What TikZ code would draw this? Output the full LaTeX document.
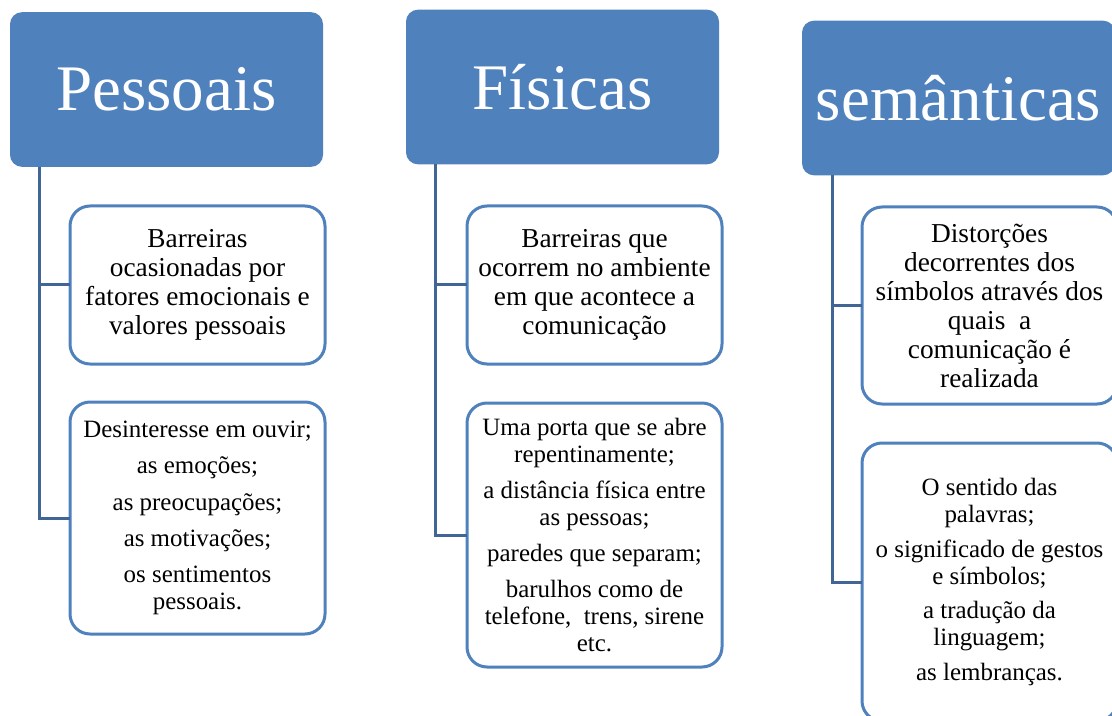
\documentclass[tikz,border=0pt]{standalone}
\usepackage{fontspec}
\setmainfont{Liberation Serif}
\usepackage{xcolor}
\usepackage{tikz}

\begin{document}
\begin{tikzpicture}[x = {(0.75pt,0pt)},
                    y = {(0pt,-0.75pt)}]

  \useasboundingbox (0,0) rectangle (1112,716);

  % COLORS
  \definecolor{headcolor_b}{rgb}{ 0.31,0.506,0.741 }
  \definecolor{linecolor_b}{rgb}{ 0.255,0.4,0.588 }

  % STYLES
  \tikzstyle{headstyle_b} = [fill=headcolor_b, rounded corners=9pt, inner sep=0pt, outer sep=0pt, minimum width=234.75pt, minimum height=116pt, text=white, font=\fontsize{48.75}{50}\selectfont]
  \tikzstyle{itemstyle_b} = [draw=headcolor_b, fill=white, line width=2.25pt, rounded corners=15pt, inner sep=0pt, outer sep=0pt, minimum width=191.25pt, align=center]
  \tikzstyle{bigtext_b} = [font=\fontsize{20.5}{21.75}\selectfont]
  \tikzstyle{smalltext_b} = [font=\fontsize{18.7}{20.2}\selectfont]
  \tikzstyle{linkstyle_b} = [draw=linecolor_b, line width=2.25pt]


  % HEADERS
  \node[headstyle_b] (head_p) at (166.5, 89.5) {Pessoais};
  \node[headstyle_b] (head_f) at (562.5, 87) {Físicas};
  \node[headstyle_b] (head_s) at (958.5, 98) {semânticas};


  % ITEMS
  \node[itemstyle_b, bigtext_b, minimum height=118.5pt] (item_p1) at (197.5, 285)
    {Barreiras\\ocasionadas por\\fatores emocionais e\\valores pessoais};
  \node[itemstyle_b, smalltext_b, minimum height=174pt] (item_p2) at (197.5, 518)
    {Desinteresse em ouvir;\\[7pt]as emoções;\\[7pt]as preocupações;\\[7pt]as motivações;\\[7pt]os sentimentos\\pessoais.};

  \node[itemstyle_b, bigtext_b, minimum height=118.5pt] (item_f1) at (594.5, 285)
    {Barreiras que\\ocorrem no ambiente\\em que acontece a\\comunicação};
  \node[itemstyle_b, smalltext_b, minimum height=198pt] (item_f2) at (594.5, 535)
    {Uma porta que se abre\\repentinamente;\\[7pt]a distância física entre\\as pessoas;\\[7pt]paredes que separam;\\[7pt]barulhos como de\\telefone,\ \ trens, sirene\\etc.};

  \node[itemstyle_b, bigtext_b, minimum height=147.75pt] (item_s1) at (989.5, 305.5)
    {Distorções\\decorrentes dos\\símbolos através dos\\quais\ \ a\\comunicação é\\realizada};
  \node[itemstyle_b, smalltext_b, minimum height=208.5pt] (item_s2) at (989.5, 582)
    {O sentido das\\palavras;\\[6pt]o significado de gestos\\e símbolos;\\[6pt]a tradução da\\linguagem;\\[6pt]as lembranças.};


  % EDGES
  \draw[linkstyle_b] (head_p.south west) ++(29,0) |- (item_p2.west);
  \draw[linkstyle_b] (head_p.south west) ++(29,0) |- (item_p1.west);

  \draw[linkstyle_b] (head_f.south west) ++(29,0) |- (item_f2.west);
  \draw[linkstyle_b] (head_f.south west) ++(29,0) |- (item_f1.west);

  \draw[linkstyle_b] (head_s.south west) ++(30,0) |- (item_s2.west);
  \draw[linkstyle_b] (head_s.south west) ++(30,0) |- (item_s1.west);

\end{tikzpicture}
\end{document}
